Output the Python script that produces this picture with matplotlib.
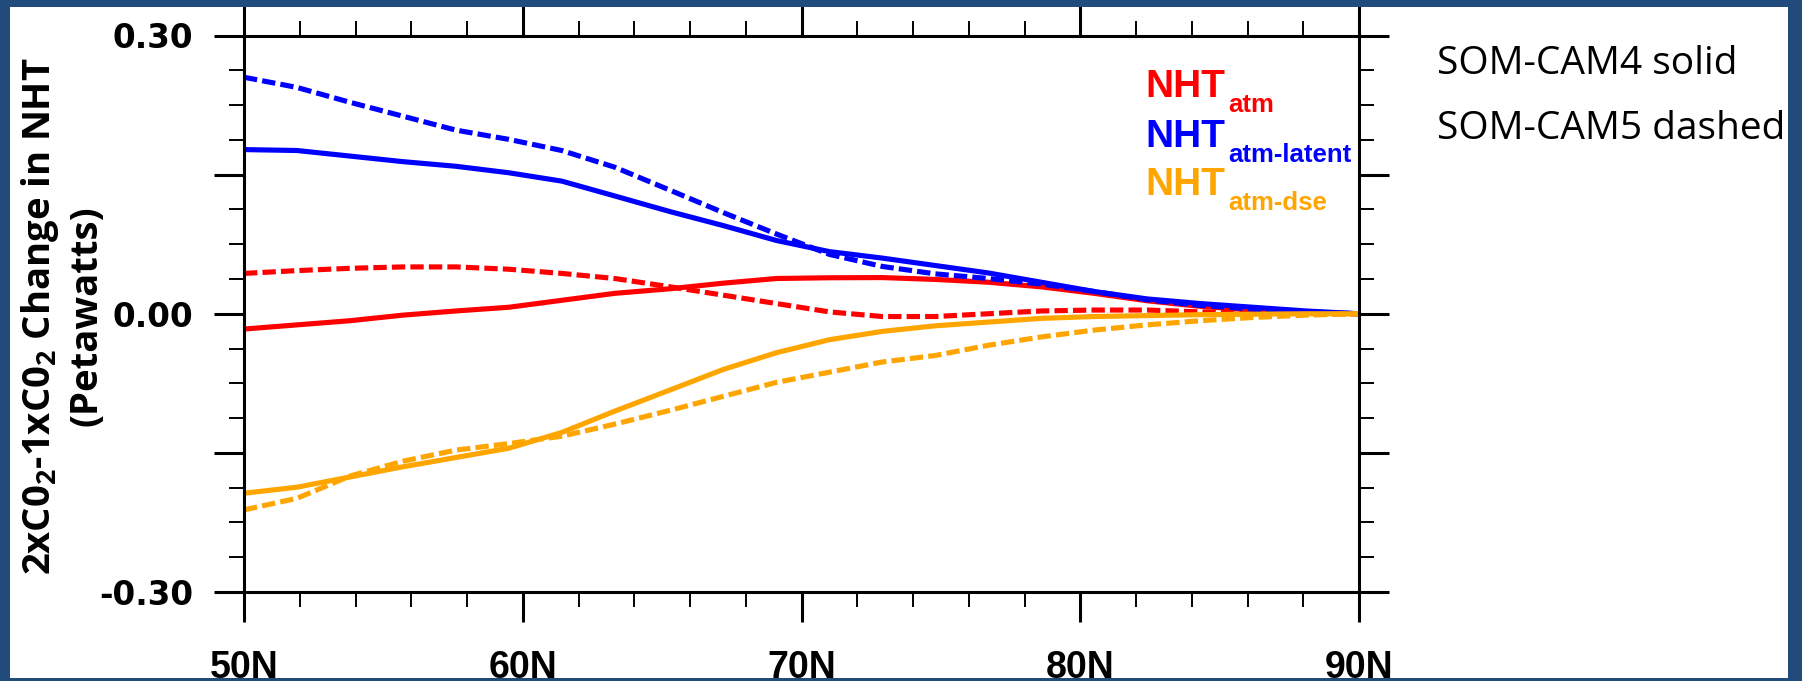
import matplotlib
matplotlib.use("Agg")
import matplotlib.pyplot as plt
from matplotlib.patches import Rectangle
from matplotlib.ticker import MultipleLocator

# latitudes of the model grid (deg N)
lat = [50.0, 51.9, 53.8, 55.7, 57.6, 59.5, 61.4, 63.3, 65.3, 67.2, 69.1,
       71.0, 72.9, 74.8, 76.7, 78.6, 80.5, 82.4, 84.3, 86.2, 88.1, 90.0]

# SOM-CAM4 (solid)
atm_cam4 = [-0.0165, -0.012, -0.0075, -0.0015, 0.003, 0.007, 0.0145, 0.022, 0.027, 0.033, 0.038,
            0.0388, 0.039, 0.037, 0.034, 0.029, 0.022, 0.014, 0.008, 0.004, 0.001, 0.0]
latent_cam4 = [0.177, 0.176, 0.170, 0.164, 0.159, 0.152, 0.143, 0.127, 0.110, 0.095, 0.079,
               0.067, 0.060, 0.052, 0.044, 0.034, 0.024, 0.016, 0.011, 0.007, 0.003, 0.0]
dse_cam4 = [-0.1935, -0.187, -0.176, -0.165, -0.155, -0.145, -0.128, -0.105, -0.082, -0.060, -0.042,
            -0.028, -0.019, -0.013, -0.009, -0.005, -0.003, -0.002, -0.001, -0.0005, 0.0, 0.0]

# SOM-CAM5 (dashed)
atm_cam5 = [0.0435, 0.0465, 0.049, 0.0505, 0.0505, 0.048, 0.0435, 0.038, 0.029, 0.020, 0.011,
            0.002, -0.003, -0.003, 0.0, 0.003, 0.004, 0.004, 0.002, 0.001, 0.0, 0.0]
latent_cam5 = [0.255, 0.244, 0.228, 0.213, 0.198, 0.188, 0.176, 0.158, 0.133, 0.109, 0.086,
               0.064, 0.051, 0.043, 0.038, 0.032, 0.024, 0.015, 0.009, 0.005, 0.002, 0.0]
dse_cam5 = [-0.2115, -0.199, -0.175, -0.159, -0.147, -0.140, -0.132, -0.119, -0.104, -0.089, -0.074,
            -0.063, -0.052, -0.045, -0.034, -0.025, -0.0176, -0.012, -0.0075, -0.004, -0.0015, 0.0]

xticks = [50, 60, 70, 80, 90]
xlabels = ["50N", "60N", "70N", "80N", "90N"]
yticks = [-0.30, -0.15, 0.0, 0.15, 0.30]
ylabels = ["-0.30", "", "0.00", "", "0.30"]

plt.rcParams['mathtext.default'] = 'regular'

W, H = 1802, 681
fig = plt.figure(figsize=(W / 100, H / 100), dpi=100)
fig.patch.set_facecolor('white')

def px(x, y):
    return x / W, 1 - y / H

ax = fig.add_axes([244 / W, 89 / H, 1115 / W, 556.5 / H])

dash = (2.6, 1.0)
ax.plot(lat, atm_cam4, color='red', lw=3.7)
ax.plot(lat, atm_cam5, color='red', lw=3.7, dashes=dash)
ax.plot(lat, latent_cam4, color='blue', lw=3.7)
ax.plot(lat, latent_cam5, color='blue', lw=3.7, dashes=dash)
ax.plot(lat, dse_cam4, color='orange', lw=3.7)
ax.plot(lat, dse_cam5, color='orange', lw=3.7, dashes=dash)

ax.set_xlim(50, 90)
ax.set_ylim(-0.3, 0.3)

ax.set_xticks(xticks, labels=xlabels, fontsize=27, fontweight='bold', family='Liberation Sans')
ax.set_yticks(yticks, labels=ylabels, fontsize=23.5, fontweight='bold', family='DejaVu Sans')
ax.xaxis.set_minor_locator(MultipleLocator(2))
ax.yaxis.set_minor_locator(MultipleLocator(0.0375))

ax.tick_params(which='both', direction='out', top=True, right=True,
               labeltop=False, labelright=False, color='black')
ax.tick_params(which='major', length=21.6, width=2.2)
ax.tick_params(which='minor', length=10.8, width=1.4)
ax.tick_params(axis='x', which='major', pad=20)
ax.tick_params(axis='y', which='major', pad=15)
for s in ax.spines.values():
    s.set_linewidth(2.2)

# y axis title (two lines)
fig.text(*px(40, 316), r"2xC0$_2$-1xC0$_2$ Change in NHT", rotation=90,
         ha='center', va='center', fontsize=27.5, fontweight='bold', family='Open Sans')
fig.text(*px(86, 316), "(Petawatts)", rotation=90,
         ha='center', va='center', fontsize=27.5, fontweight='bold', family='Open Sans')

# colour legend: "NHT" with a subscript placed right after it
legend = [("atm", 'red', 97), ("atm-latent", 'blue', 147), ("atm-dse", 'orange', 195)]
renderer = fig.canvas.get_renderer()
for sub, col, base in legend:
    t = fig.text(*px(1145, base), "NHT", color=col, fontsize=28, fontweight='bold',
                 family='Liberation Sans', ha='left', va='baseline')
    x_end = t.get_window_extent(renderer).x1
    fig.text((x_end + 3) / W, 1 - (base + 15) / H, sub, color=col, fontsize=18.5,
             fontweight='bold', family='Liberation Sans', ha='left', va='baseline')

fig.text(*px(1437, 74), "SOM-CAM4 solid", fontsize=28, family='Open Sans',
         ha='left', va='baseline', color='black')
fig.text(*px(1437, 139), "SOM-CAM5 dashed", fontsize=28, family='Open Sans',
         ha='left', va='baseline', color='black')

# dark blue frame around the slide
border = '#214B7D'
for (x0, y0, w, h) in [(0, 0, 10, H), (0, 0, W, 7), (1788, 0, W - 1788, H), (0, 678, W, 3)]:
    fig.add_artist(Rectangle((x0 / W, 1 - (y0 + h) / H), w / W, h / H,
                             transform=fig.transFigure, color=border, zorder=10, lw=0))

fig.savefig("out.png", dpi=100, facecolor=fig.get_facecolor())
